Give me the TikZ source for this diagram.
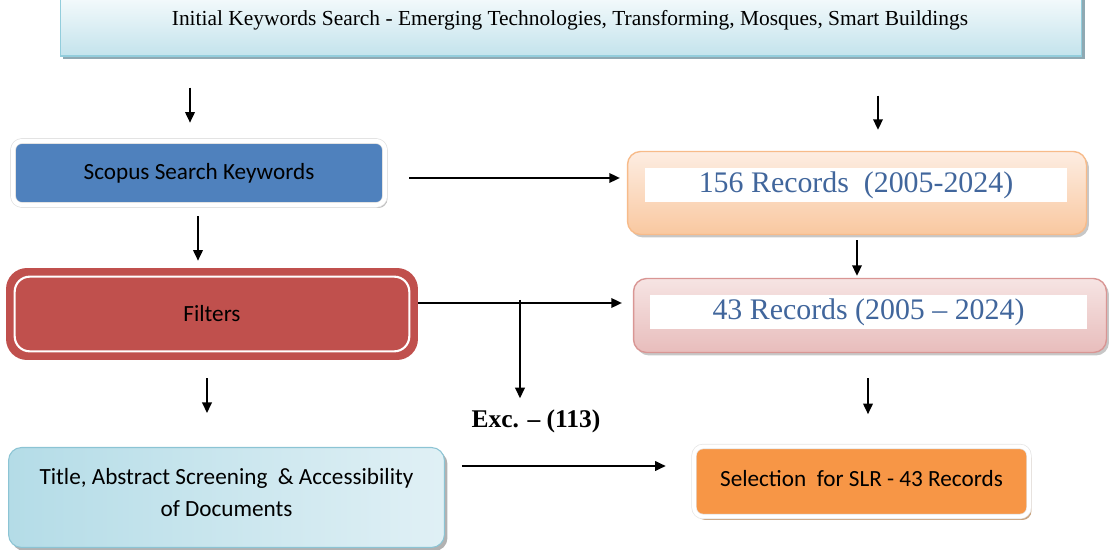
\documentclass[tikz,border=0pt]{standalone}
\usepackage{fontspec}
\setmainfont{Liberation Serif}
\newfontfamily\carl{Carlito}
\usetikzlibrary{arrows.meta,shadows,calc}
\definecolor{topborder}{HTML}{92CDDC}
\definecolor{topfill}{HTML}{C3E3EC}
\definecolor{topshadow}{HTML}{8FA9B3}
\definecolor{scopblue}{HTML}{4F81BD}
\definecolor{filtred}{HTML}{C0504D}
\definecolor{selorange}{HTML}{F79646}
\definecolor{recblue}{HTML}{41669C}
\definecolor{peachborder}{HTML}{F7BB8A}
\definecolor{peachlight}{HTML}{FDEDE2}
\definecolor{peachdark}{HTML}{F9C8A0}
\definecolor{pinkborder}{HTML}{D99694}
\definecolor{pinklight}{HTML}{F6E4E3}
\definecolor{pinkdark}{HTML}{E8BDBC}
\definecolor{titledark}{HTML}{B4DCE7}
\definecolor{titlelight}{HTML}{E0F0F5}
\definecolor{titleborder}{HTML}{8CC4D4}
\definecolor{seltan}{HTML}{C9A37F}
\begin{document}
\begin{tikzpicture}[x=0.02cm,y=-0.02cm,
  arr/.style={-{Triangle[length=6pt,width=5.5pt]}, line width=0.85pt},
  topbox/.style={draw=topborder, line width=0.6pt, top color=white, bottom color=topfill,
     drop shadow={shadow xshift=0.06cm, shadow yshift=-0.07cm, fill=topshadow, opacity=1}},
  toptext/.style={font=\fontsize{12.2}{15}\selectfont},
  scopbox/.style={fill=scopblue, draw=black!12, double=white, double distance=2.4pt, line width=0.4pt,
     rounded corners=0.18cm, drop shadow={shadow xshift=0.05cm, shadow yshift=-0.06cm, fill=black!25, opacity=1},
     font=\carl\fontsize{13.2}{15}\selectfont},
  recbox/.style={line width=0.8pt, rounded corners=0.26cm,
     drop shadow={shadow xshift=0.05cm, shadow yshift=-0.06cm, fill=black!22, opacity=1}},
  rectext/.style={fill=white, text=recblue, font=\fontsize{17}{20}\selectfont},
  filtbox/.style={fill=filtred, rounded corners=0.42cm, font=\carl\fontsize{13.2}{15}\selectfont},
  titlebox/.style={draw=titleborder, line width=0.6pt, left color=titledark, right color=titlelight,
     rounded corners=0.26cm, align=center,
     drop shadow={shadow xshift=0.06cm, shadow yshift=-0.07cm, fill=black!30, opacity=1},
     font=\carl\fontsize{13.2}{18}\selectfont},
  selbox/.style={fill=selorange, draw=black!10, double=white, double distance=2.2pt, line width=0.4pt,
     rounded corners=0.18cm, drop shadow={shadow xshift=0.05cm, shadow yshift=-0.07cm, fill=seltan, opacity=1},
     font=\carl\fontsize{13.2}{15}\selectfont},
  exclabel/.style={font=\bfseries\fontsize{14.5}{17}\selectfont}
]
\useasboundingbox (0,0) rectangle (1110,550);

\node[topbox, minimum width=20.44cm, minimum height=1.44cm] (top) at (571,20) {};
\node[toptext] (toplabel) at (570,20)
  {Initial Keywords Search - Emerging Technologies, Transforming, Mosques, Smart Buildings};

\node[scopbox, minimum width=7.44cm, minimum height=1.28cm] (scopus) at (199,173) {Scopus Search Keywords};

\node[recbox, draw=peachborder, top color=peachlight, bottom color=peachdark,
      minimum width=9.18cm, minimum height=1.66cm] (r156) at (857,193) {};
\node[rectext, minimum width=8.44cm, minimum height=0.68cm, inner sep=0pt] (r156t) at (856,185)
  {156 Records~~(2005-2024)};

\node[filtbox, minimum width=8.24cm, minimum height=1.84cm] (filters) at (212,314) {Filters};
\draw[white, line width=1.2pt, rounded corners=0.3cm]
  ($(filters.south west)+(9,-9)$) rectangle ($(filters.north east)+(-9,9)$);

\node[recbox, draw=pinkborder, top color=pinklight, bottom color=pinkdark,
      minimum width=9.46cm, minimum height=1.48cm] (r43) at (870,315.5) {};
\node[rectext, minimum width=8.74cm, minimum height=0.68cm, inner sep=0pt] (r43t) at (868.5,312)
  {43 Records (2005 -- 2024)};

\node[titlebox, minimum width=8.72cm, minimum height=2.0cm, text depth=0.2cm] (title) at (226.5,497.5)
  {Title, Abstract Screening~ \& Accessibility\\ of Documents};

\node[selbox, minimum width=6.7cm, minimum height=1.4cm, text depth=0.14cm] (sel) at (861.5,481.5)
  {Selection~ for SLR - 43 Records};

\node[exclabel] (exc) at (536,421) {Exc. -- (113)};

% connectors
\draw[arr, shorten <=0.62cm, shorten >=0.36cm] ([xshift=-0.18cm]scopus.north |- top.south) -- ([xshift=-0.18cm]scopus.north);
\draw[arr, shorten <=0.78cm, shorten >=0.42cm] ([xshift=0.42cm]r156.north |- top.south) -- ([xshift=0.42cm]r156.north);
\draw[arr, shorten <=0.48cm, shorten >=0.14cm] ([yshift=-0.1cm]scopus.east) -- ([yshift=-0.1cm]scopus.east -| r156.west);
\draw[arr, shorten <=0.22cm, shorten >=0.14cm] ([xshift=-0.02cm]scopus.south) -- ([xshift=-0.02cm]scopus.south |- filters.north);
\draw[arr, shorten <=0.1cm, shorten >=0.04cm] (r156.south) -- (r156.south |- r43.north);
\draw[arr, shorten >=0.22cm] ([yshift=0.22cm]filters.east) -- ([yshift=0.22cm]filters.east -| r43.west);
\coordinate (br) at (520,300);
\draw[arr, shorten >=0.1cm] (br) -- (br |- exc.north);
\draw[arr, shorten <=0.36cm, shorten >=0.68cm] ([xshift=-0.1cm]filters.south) -- ([xshift=-0.1cm]filters.south |- title.north);
\draw[arr, shorten <=0.5cm, shorten >=0.64cm] ([xshift=-0.04cm]r43.south) -- ([xshift=-0.04cm]r43.south |- sel.north);
\draw[arr, shorten <=0.34cm, shorten >=0.56cm] ([yshift=0.63cm]title.east) -- ([yshift=0.63cm]title.east -| sel.west);
\end{tikzpicture}
\end{document}
